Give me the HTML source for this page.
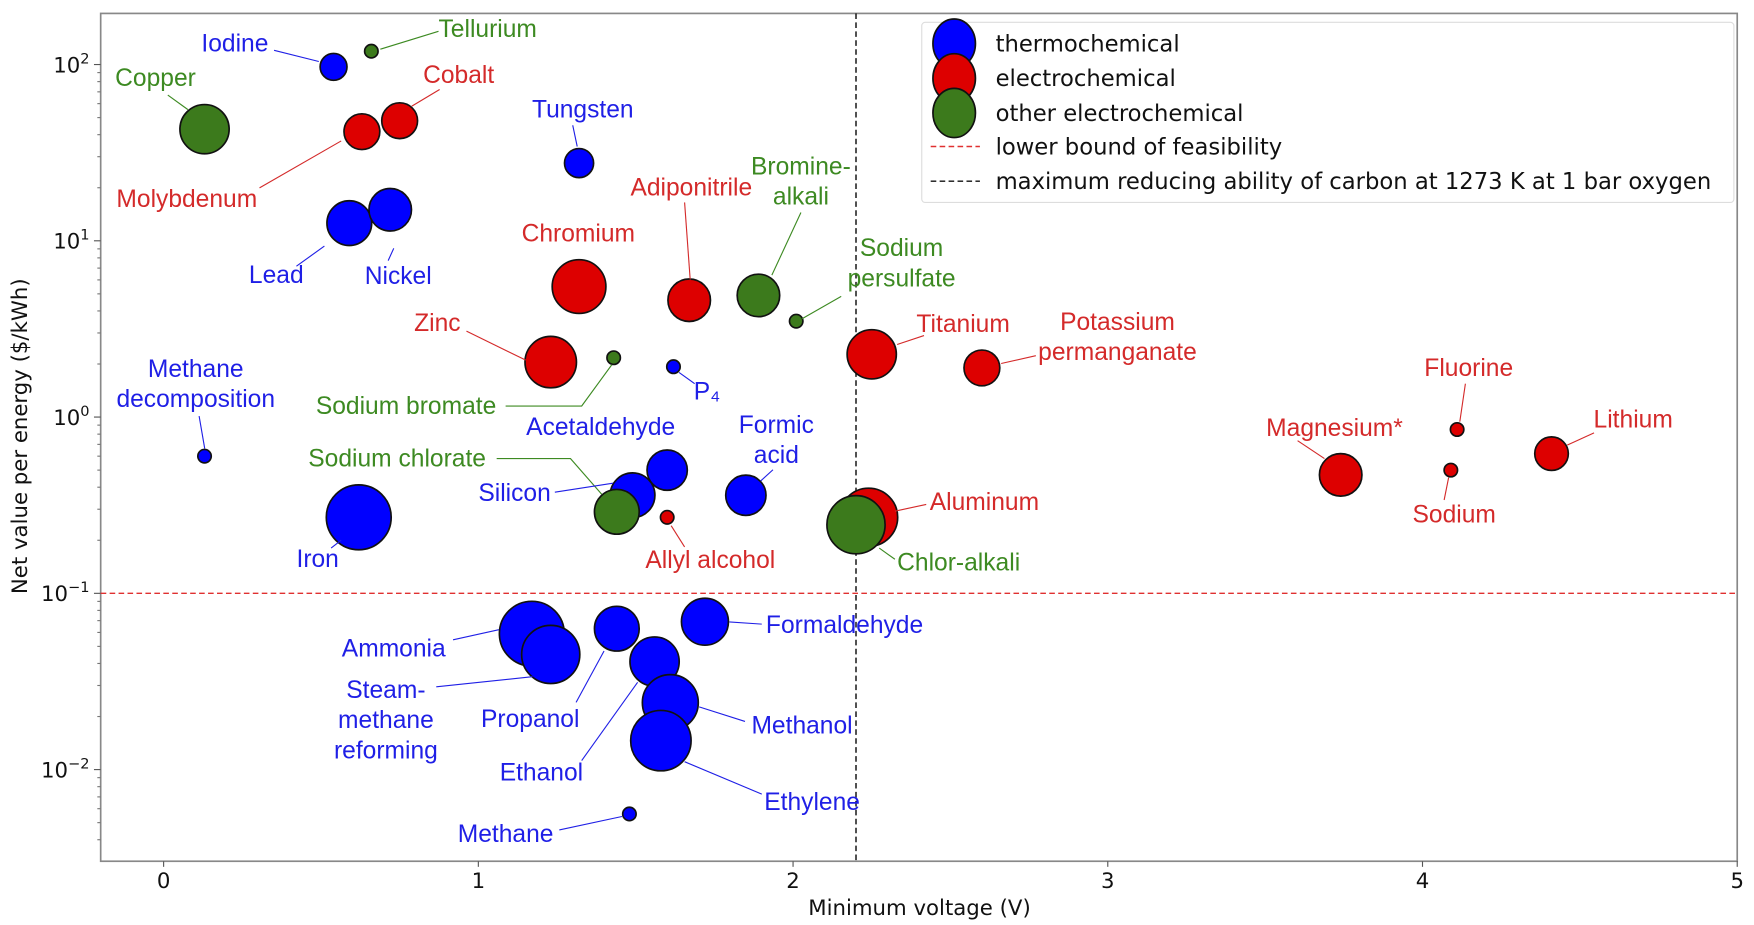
<!DOCTYPE html>
<html><head><meta charset="utf-8"><style>
html,body{margin:0;padding:0;background:#fff;}
svg{display:block;}
text{font-family:"Liberation Sans",sans-serif;}
.tk{font-family:"DejaVu Sans","Liberation Sans",sans-serif;font-size:19px;fill:#111;}
.lg{font-family:"DejaVu Sans","Liberation Sans",sans-serif;font-size:20.3px;fill:#111;}
</style></head><body>
<svg id="chart" width="1754" height="925" viewBox="0 0 1568 827" preserveAspectRatio="none" xmlns="http://www.w3.org/2000/svg">
<g id="grid"></g>
<g id="marks"></g>
<g id="anno"></g>
</svg>
<script>
// ---- data ----
const names = ["Iodine","Tungsten","Lead","Nickel","Methane decomposition","Iron","P4","Acetaldehyde","Silicon","Formic acid","Ammonia","Steam-methane reforming","Propanol","Formaldehyde","Ethanol","Methanol","Ethylene","Methane",
"Cobalt","Molybdenum","Chromium","Adiponitrile","Zinc","Titanium","Potassium permanganate","Allyl alcohol","Aluminum","Magnesium*","Fluorine","Sodium","Lithium",
"Tellurium","Copper","Bromine-alkali","Sodium persulfate","Sodium bromate","Sodium chlorate","Chlor-alkali"];
const voltages = [0.54,1.32,0.59,0.72,0.13,0.62,1.62,1.60,1.49,1.85,1.17,1.23,1.44,1.72,1.56,1.61,1.58,1.48,
0.75,0.63,1.32,1.67,1.23,2.25,2.60,1.60,2.24,3.74,4.11,4.09,4.41,
0.66,0.13,1.89,2.01,1.43,1.44,2.20];
const values = [97,27.6,12.6,15,0.6,0.27,1.93,0.50,0.36,0.36,0.059,0.045,0.063,0.069,0.041,0.024,0.0146,0.0056,
48,41.6,5.5,4.6,2.05,2.27,1.9,0.27,0.27,0.47,0.85,0.50,0.62,
119,43,4.9,3.5,2.17,0.29,0.245];
const sizes = [12,13,20,19,6,29,6,18,20,18,29,26,20,21,22,25,27,6,
16,16,24,19,23,22,16,6,26,19,6,6,15,
6,22,19,6,6,20,26];
const categories = ["t","t","t","t","t","t","t","t","t","t","t","t","t","t","t","t","t","t",
"e","e","e","e","e","e","e","e","e","e","e","e","e",
"o","o","o","o","o","o","o"];
const xTicks = [0,1,2,3,4,5];
const yTickExp = [2,1,0,-1,-2];
const feasibility = 0.1;
const carbonLimit = 2.2;

// ---- axes ----
const L=90,R=1553,T=12,B=770;
const xMin=-0.2,xMax=5,yMinL=-2.52,yMaxL=2.29;
const xs=v=>L+(v-xMin)/(xMax-xMin)*(R-L);
const ys=v=>B-(Math.log10(v)-yMinL)/(yMaxL-yMinL)*(B-T);
const NS="http://www.w3.org/2000/svg";
function mk(tag,attrs,parent){const e=document.createElementNS(NS,tag);for(const k in attrs)e.setAttribute(k,attrs[k]);parent.appendChild(e);return e;}
const grid=document.getElementById('grid'),marks=document.getElementById('marks'),anno=document.getElementById('anno');
const fills={t:"#0000ff",e:"#dd0000",o:"#3c7a1c"};
const tcol={t:"#1f1fe6",e:"#d42a2a",o:"#3d8a22"};

let fr=mk('rect',{x:L,y:T,width:R-L,height:B-T,fill:'none',stroke:'#888','stroke-width':1.5},grid);


xTicks.forEach(v=>{
  const x=xs(v);
  mk('line',{x1:x,y1:B,x2:x,y2:B+5,stroke:'#555'},grid);
  const t=mk('text',{x:x,y:B+24,'text-anchor':'middle',class:'tk'},grid);t.textContent=v;
  
  
});
yTickExp.forEach(e=>{
  const y=ys(Math.pow(10,e));
  mk('line',{x1:L-6,y1:y,x2:L,y2:y,stroke:'#555'},grid);
  const t=mk('text',{x:L-10,y:y+7,'text-anchor':'end',class:'tk'},grid);
  
  
  t.innerHTML='10<tspan dy="-8" font-size="13">'+(e<0?'\u2212'+(-e):e)+'</tspan>';
});
for(let e=-3;e<=2;e++)for(let m=2;m<=9;m++){const v=m*Math.pow(10,e);const lv=Math.log10(v);if(lv<yMinL||lv>yMaxL)continue;const y=ys(v);mk('line',{x1:L-3,y1:y,x2:L,y2:y,stroke:'#777'},grid);}
let xl=mk('text',{x:822,y:818,'text-anchor':'middle',class:'tk'},grid);xl.textContent='Minimum voltage (V)';


let yl=mk('text',{x:24,y:390,'text-anchor':'middle',class:'tk',transform:'rotate(-90 24 390)'},grid);yl.textContent='Net value per energy ($/kWh)';



let hl=mk('line',{x1:L,x2:R,y1:ys(feasibility),y2:ys(feasibility),stroke:'#e03030','stroke-width':1.3,'stroke-dasharray':'5,3'},grid);


let vl=mk('line',{x1:xs(carbonLimit),x2:xs(carbonLimit),y1:T,y2:B,stroke:'#111','stroke-width':1.3,'stroke-dasharray':'5,3'},grid);



names.forEach((n,i)=>{
  const c=mk('circle',{cx:xs(voltages[i]),cy:ys(values[i]),r:sizes[i],fill:fills[categories[i]],stroke:'#111','stroke-width':1.5},marks);
  
  
});

const labels=[
["Iodine",["Iodine"],210,39,[[245,45],[285,55]]],
["Tellurium",["Tellurium"],436,26,[[392,28],[340,44]]],
["Copper",["Copper"],139,70,[[150,85],[168,98]]],
["Cobalt",["Cobalt"],410,67,[[393,80],[368,95]]],
["Molybdenum",["Molybdenum"],167,178,[[232,168],[305,126]]],
["Tungsten",["Tungsten"],521,98,[[512,112],[516,131]]],
["Lead",["Lead"],247,246,[[265,238],[290,220]]],
["Nickel",["Nickel"],356,247,[[347,233],[352,222]]],
["Chromium",["Chromium"],517,209,[]],
["Adiponitrile",["Adiponitrile"],618,168,[[612,181],[617,250]]],
["Bromine-alkali",["Bromine-","alkali"],716,149,[[716,190],[690,246]]],
["Sodium persulfate",["Sodium","persulfate"],806,222,[[752,265],[717,285]]],
["Zinc",["Zinc"],391,289,[[417,296],[470,322]]],
["Titanium",["Titanium"],861,290,[[826,300],[802,308]]],
["Potassium permanganate",["Potassium","permanganate"],999,288,[[926,318],[895,325]]],
["Methane decomposition",["Methane","decomposition"],175,330,[[178,372],[183,401]]],
["Sodium bromate",["Sodium bromate"],363,363,[[452,363],[520,363],[547,326]]],
["P4",["P\u2084"],632,350,[[621,343],[607,333]]],
["Acetaldehyde",["Acetaldehyde"],537,382,[]],
["Formic acid",["Formic","acid"],694,380,[[691,420],[680,430]]],
["Sodium chlorate",["Sodium chlorate"],355,410,[[444,410],[510,410],[538,442]]],
["Silicon",["Silicon"],460,441,[[496,440],[548,432]]],
["Iron",["Iron"],284,500,[[296,490],[305,483]]],
["Allyl alcohol",["Allyl alcohol"],635,501,[[612,489],[600,470]]],
["Aluminum",["Aluminum"],880,449,[[828,451],[800,457]]],
["Chlor-alkali",["Chlor-alkali"],857,503,[[800,500],[786,490]]],
["Magnesium*",["Magnesium*"],1193,383,[[1160,394],[1184,410]]],
["Fluorine",["Fluorine"],1313,329,[[1310,343],[1305,377]]],
["Lithium",["Lithium"],1460,375,[[1425,387],[1401,398]]],
["Sodium",["Sodium"],1300,460,[[1291,447],[1295,427]]],
["Ammonia",["Ammonia"],352,580,[[405,572],[446,563]]],
["Steam-methane reforming",["Steam-","methane","reforming"],345,617,[[390,614],[476,605]]],
["Propanol",["Propanol"],474,643,[[515,628],[540,582]]],
["Ethanol",["Ethanol"],484,691,[[520,680],[570,610]]],
["Methanol",["Methanol"],717,649,[[666,645],[625,632]]],
["Formaldehyde",["Formaldehyde"],755,559,[[681,558],[652,556]]],
["Ethylene",["Ethylene"],726,717,[[681,710],[612,681]]],
["Methane",["Methane"],452,746,[[500,742],[556,730]]]
];
labels.forEach(l=>{
  const idx=names.indexOf(l[0]);const cat=categories[idx];
  if(l[4].length>1){
    const p=mk('polyline',{points:l[4].map(q=>q.join(',')).join(' '),fill:'none',stroke:tcol[cat],'stroke-width':1},anno);
    
    
  }
  l[1].forEach((s,j)=>{
    const t=mk('text',{x:l[2],y:l[3]+7+j*27,'text-anchor':'middle','font-size':22,fill:tcol[cat]},anno);
    t.textContent=s;
    
    
  });
});

const lgNames=["thermochemical","electrochemical","other electrochemical","lower bound of feasibility","maximum reducing ability of carbon at 1273 K at 1 bar oxygen"];
const lg=mk('g',{},anno);


mk('rect',{x:824,y:20,width:726,height:161,rx:3,fill:'#fff',stroke:'#ddd'},lg);
const lgY=[39,70,101,131,162];
lgNames.forEach((n,i)=>{
  const y=lgY[i];
  if(i<3){mk('ellipse',{cx:853,cy:y,rx:19,ry:22,fill:fills["teo"[i]],stroke:'#111','stroke-width':1.5},lg);}
  else{mk('line',{x1:832,x2:876,y1:y,y2:y,stroke:i==3?'#e03030':'#111','stroke-width':1.3,'stroke-dasharray':'5,3'},lg);}
  const t=mk('text',{x:890,y:y+7,class:'lg'},lg);t.textContent=n;
  
  
});
</script>
</body></html>
